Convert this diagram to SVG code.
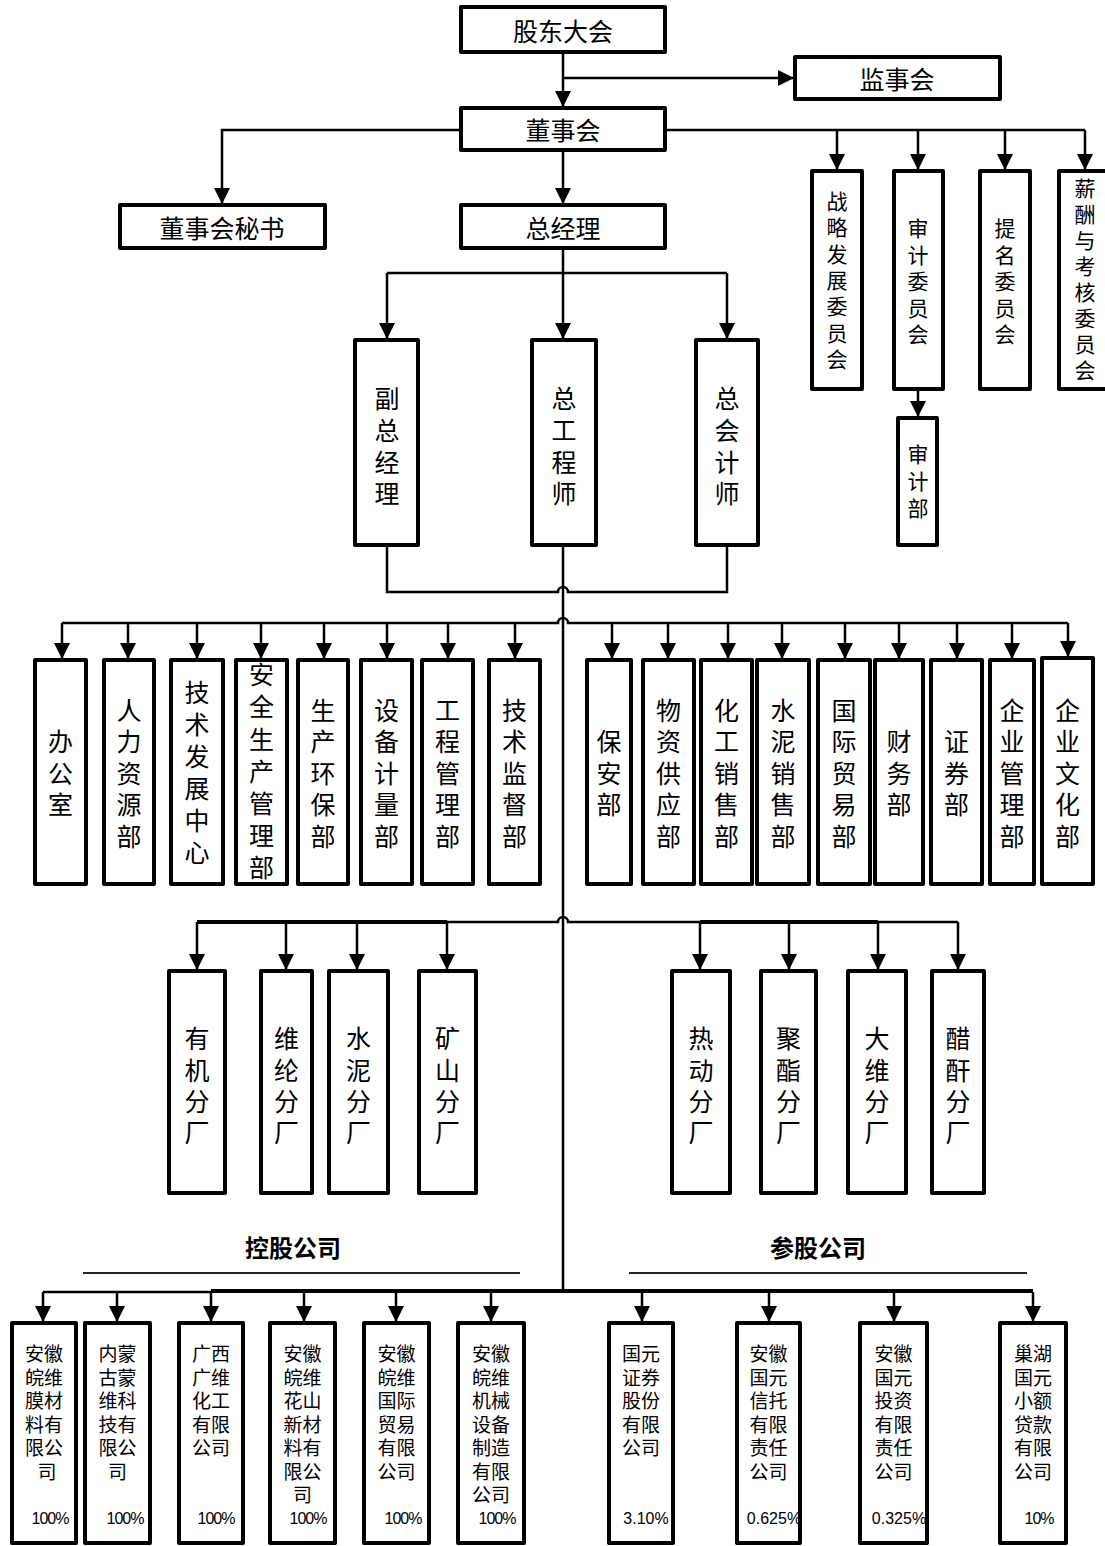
<svg xmlns="http://www.w3.org/2000/svg" width="1105" height="1546" viewBox="0 0 1105 1546">
<defs>
<marker id="ah" markerUnits="userSpaceOnUse" markerWidth="16" markerHeight="16" viewBox="0 0 16 16" refX="15" refY="8" orient="auto"><path d="M0,0 L16,8 L0,16 z" fill="#000"/></marker>
<style>
.box{fill:#fff;stroke:#000;stroke-width:4;stroke-linejoin:round}
.c{fill:none;stroke:#000;stroke-width:2.5}
.a{fill:none;stroke:#000;stroke-width:2.5;marker-end:url(#ah)}
.t{font-family:"Noto Sans CJK SC","Noto Sans",sans-serif;font-size:25px;fill:#000;text-anchor:middle;dominant-baseline:central}
.s{font-family:"Noto Sans CJK SC","Noto Sans",sans-serif;font-size:21px;fill:#000;text-anchor:middle;dominant-baseline:central}
.m{font-family:"Noto Sans CJK SC","Noto Sans",sans-serif;font-size:19px;fill:#000;text-anchor:middle;dominant-baseline:central}
.p{font-family:"Liberation Sans",Arial,sans-serif;font-size:16px;fill:#000;text-anchor:middle;dominant-baseline:central;letter-spacing:-1px}
.h{font-family:"Noto Sans CJK SC","Noto Sans",sans-serif;font-size:24px;font-weight:bold;fill:#000;text-anchor:middle;dominant-baseline:central}
</style>
</defs>
<rect width="1105" height="1546" fill="#fff"/>

<g id="connectors">
<path class="a" d="M563,52 V106"/>
<path class="a" d="M563,78 H793"/>
<path class="a" d="M563,150 V203"/>
<path class="a" d="M461,130 H222 V203"/>
<path class="c" d="M665,130 H1085"/>
<path class="a" d="M837,130 V169"/>
<path class="a" d="M918,130 V169"/>
<path class="a" d="M1005,130 V169"/>
<path class="a" d="M1085,130 V169"/>
<path class="a" d="M918,389 V416"/>
<path class="a" d="M563,248 V338"/>
<path class="c" d="M387,273 H727"/>
<path class="a" d="M387,273 V338"/>
<path class="a" d="M727,273 V338"/>
<path class="c" d="M387,545 V592 H558 A5,5 0 0 1 568,592 H727 V545"/>
<path class="c" d="M563,545 V1291"/>
<path class="c" d="M62,623 H558 A5,5 0 0 1 568,623 H1068"/>
<path class="a" d="M62,623 V658"/>
<path class="a" d="M128,623 V658"/>
<path class="a" d="M197,623 V658"/>
<path class="a" d="M261,623 V658"/>
<path class="a" d="M324,623 V658"/>
<path class="a" d="M387,623 V658"/>
<path class="a" d="M448,623 V658"/>
<path class="a" d="M515,623 V658"/>
<path class="a" d="M612,623 V658"/>
<path class="a" d="M668,623 V658"/>
<path class="a" d="M728,623 V658"/>
<path class="a" d="M782,623 V658"/>
<path class="a" d="M845,623 V658"/>
<path class="a" d="M899,623 V658"/>
<path class="a" d="M957,623 V658"/>
<path class="a" d="M1012,623 V658"/>
<path class="a" d="M1068,623 V656"/>
<path class="c" d="M197,922 H558 A5,5 0 0 1 568,922 H958"/>
<path class="c" d="M197,922 H447" style="stroke-width:4"/>
<path class="c" d="M700,922 H878" style="stroke-width:4"/>
<path class="a" d="M197,922 V969"/>
<path class="a" d="M286,922 V969"/>
<path class="a" d="M357,922 V969"/>
<path class="a" d="M447,922 V969"/>
<path class="a" d="M700,922 V969"/>
<path class="a" d="M789,922 V969"/>
<path class="a" d="M878,922 V969"/>
<path class="a" d="M958,922 V969"/>
<path class="c" d="M43,1292 H211"/>
<path class="c" d="M211,1291 H1033" style="stroke-width:4"/>
<path class="a" d="M43,1292 V1321"/>
<path class="a" d="M117,1292 V1321"/>
<path class="a" d="M211,1292 V1321"/>
<path class="a" d="M304,1292 V1321"/>
<path class="a" d="M396,1292 V1321"/>
<path class="a" d="M491,1292 V1321"/>
<path class="a" d="M642,1292 V1321"/>
<path class="a" d="M769,1292 V1321"/>
<path class="a" d="M894,1292 V1321"/>
<path class="a" d="M1033,1292 V1321"/>
<path d="M83,1273 H520 M629,1273 H1027" stroke="#222" stroke-width="2" fill="none"/>
</g>

<g id="n-gudong"><rect class="box" x="461" y="7" width="204" height="45"/><text class="t" x="563" y="30">股东大会</text></g>
<g id="n-jianshi"><rect class="box" x="795" y="57" width="205" height="42"/><text class="t" x="897" y="78">监事会</text></g>
<g id="n-dongshi"><rect class="box" x="461" y="108" width="204" height="42"/><text class="t" x="563" y="129">董事会</text></g>
<g id="n-mishu"><rect class="box" x="120" y="205" width="205" height="43"/><text class="t" x="222" y="227">董事会秘书</text></g>
<g id="n-zongjingli"><rect class="box" x="461" y="205" width="204" height="43"/><text class="t" x="563" y="227">总经理</text></g>

<g id="n-zhanlue"><rect class="box" x="812" y="171" width="50" height="218"/>
<text class="s"><tspan x="837" y="200">战</tspan><tspan x="837" y="226.3">略</tspan><tspan x="837" y="252.6">发</tspan><tspan x="837" y="279">展</tspan><tspan x="837" y="305.3">委</tspan><tspan x="837" y="331.6">员</tspan><tspan x="837" y="358">会</tspan></text></g>
<g id="n-shenjiwy"><rect class="box" x="894" y="171" width="49" height="218"/>
<text class="s"><tspan x="918" y="227">审</tspan><tspan x="918" y="253.5">计</tspan><tspan x="918" y="280">委</tspan><tspan x="918" y="306.5">员</tspan><tspan x="918" y="333">会</tspan></text></g>
<g id="n-timing"><rect class="box" x="980" y="171" width="50" height="218"/>
<text class="s"><tspan x="1005" y="227">提</tspan><tspan x="1005" y="253.5">名</tspan><tspan x="1005" y="280">委</tspan><tspan x="1005" y="306.5">员</tspan><tspan x="1005" y="333">会</tspan></text></g>
<g id="n-xinchou"><rect class="box" x="1059" y="171" width="52" height="218"/>
<text class="s"><tspan x="1085" y="187">薪</tspan><tspan x="1085" y="213">酬</tspan><tspan x="1085" y="239">与</tspan><tspan x="1085" y="265">考</tspan><tspan x="1085" y="291">核</tspan><tspan x="1085" y="317">委</tspan><tspan x="1085" y="343">员</tspan><tspan x="1085" y="369">会</tspan></text></g>
<g id="n-shenjibu"><rect class="box" x="898" y="418" width="39" height="127"/>
<text class="s"><tspan x="918" y="453">审</tspan><tspan x="918" y="480">计</tspan><tspan x="918" y="507">部</tspan></text></g>

<g id="n-fuzong"><rect class="box" x="355" y="340" width="63" height="205"/>
<text class="t"><tspan x="387" y="397">副</tspan><tspan x="387" y="429">总</tspan><tspan x="387" y="461">经</tspan><tspan x="387" y="492">理</tspan></text></g>
<g id="n-zonggong"><rect class="box" x="532" y="340" width="64" height="205"/>
<text class="t"><tspan x="564" y="397">总</tspan><tspan x="564" y="429">工</tspan><tspan x="564" y="461">程</tspan><tspan x="564" y="492">师</tspan></text></g>
<g id="n-zongkuai"><rect class="box" x="696" y="340" width="62" height="205"/>
<text class="t"><tspan x="727" y="397">总</tspan><tspan x="727" y="429">会</tspan><tspan x="727" y="461">计</tspan><tspan x="727" y="492">师</tspan></text></g>

<g id="d-bangong"><rect class="box" x="35" y="660" width="51" height="224"/>
<text class="t"><tspan x="60.5" y="740">办</tspan><tspan x="60.5" y="771.5">公</tspan><tspan x="60.5" y="803">室</tspan></text></g>
<g id="d-renli"><rect class="box" x="104" y="660" width="50" height="224"/>
<text class="t"><tspan x="129" y="708.5">人</tspan><tspan x="129" y="740">力</tspan><tspan x="129" y="771.5">资</tspan><tspan x="129" y="803">源</tspan><tspan x="129" y="834.5">部</tspan></text></g>
<g id="d-jishufz"><rect class="box" x="171" y="660" width="52" height="224"/>
<text class="t"><tspan x="197" y="691">技</tspan><tspan x="197" y="723">术</tspan><tspan x="197" y="755">发</tspan><tspan x="197" y="787">展</tspan><tspan x="197" y="819">中</tspan><tspan x="197" y="851">心</tspan></text></g>
<g id="d-anquan"><rect class="box" x="236" y="660" width="51" height="224"/>
<text class="t"><tspan x="261.5" y="673">安</tspan><tspan x="261.5" y="705">全</tspan><tspan x="261.5" y="737.5">生</tspan><tspan x="261.5" y="769.5">产</tspan><tspan x="261.5" y="801.5">管</tspan><tspan x="261.5" y="834">理</tspan><tspan x="261.5" y="866">部</tspan></text></g>
<g id="d-huanbao"><rect class="box" x="298" y="660" width="50" height="224"/>
<text class="t"><tspan x="323" y="708.5">生</tspan><tspan x="323" y="740">产</tspan><tspan x="323" y="771.5">环</tspan><tspan x="323" y="803">保</tspan><tspan x="323" y="834.5">部</tspan></text></g>
<g id="d-shebei"><rect class="box" x="361" y="660" width="51" height="224"/>
<text class="t"><tspan x="386.5" y="708.5">设</tspan><tspan x="386.5" y="740">备</tspan><tspan x="386.5" y="771.5">计</tspan><tspan x="386.5" y="803">量</tspan><tspan x="386.5" y="834.5">部</tspan></text></g>
<g id="d-gongcheng"><rect class="box" x="422" y="660" width="51" height="224"/>
<text class="t"><tspan x="447.5" y="708.5">工</tspan><tspan x="447.5" y="740">程</tspan><tspan x="447.5" y="771.5">管</tspan><tspan x="447.5" y="803">理</tspan><tspan x="447.5" y="834.5">部</tspan></text></g>
<g id="d-jiandu"><rect class="box" x="489" y="660" width="51" height="224"/>
<text class="t"><tspan x="514.5" y="708.5">技</tspan><tspan x="514.5" y="740">术</tspan><tspan x="514.5" y="771.5">监</tspan><tspan x="514.5" y="803">督</tspan><tspan x="514.5" y="834.5">部</tspan></text></g>

<g id="d-baoan"><rect class="box" x="587" y="660" width="44" height="224"/>
<text class="t"><tspan x="609" y="740">保</tspan><tspan x="609" y="771.5">安</tspan><tspan x="609" y="803">部</tspan></text></g>
<g id="d-wuzi"><rect class="box" x="643" y="660" width="51" height="224"/>
<text class="t"><tspan x="668.5" y="708.5">物</tspan><tspan x="668.5" y="740">资</tspan><tspan x="668.5" y="771.5">供</tspan><tspan x="668.5" y="803">应</tspan><tspan x="668.5" y="834.5">部</tspan></text></g>
<g id="d-huagong"><rect class="box" x="701" y="660" width="51" height="224"/>
<text class="t"><tspan x="726.5" y="708.5">化</tspan><tspan x="726.5" y="740">工</tspan><tspan x="726.5" y="771.5">销</tspan><tspan x="726.5" y="803">售</tspan><tspan x="726.5" y="834.5">部</tspan></text></g>
<g id="d-shuini"><rect class="box" x="757" y="660" width="52" height="224"/>
<text class="t"><tspan x="783" y="708.5">水</tspan><tspan x="783" y="740">泥</tspan><tspan x="783" y="771.5">销</tspan><tspan x="783" y="803">售</tspan><tspan x="783" y="834.5">部</tspan></text></g>
<g id="d-guoji"><rect class="box" x="818" y="660" width="52" height="224"/>
<text class="t"><tspan x="844" y="708.5">国</tspan><tspan x="844" y="740">际</tspan><tspan x="844" y="771.5">贸</tspan><tspan x="844" y="803">易</tspan><tspan x="844" y="834.5">部</tspan></text></g>
<g id="d-caiwu"><rect class="box" x="875" y="660" width="48" height="224"/>
<text class="t"><tspan x="899" y="740">财</tspan><tspan x="899" y="771.5">务</tspan><tspan x="899" y="803">部</tspan></text></g>
<g id="d-zhengquan"><rect class="box" x="931" y="660" width="51" height="224"/>
<text class="t"><tspan x="956.5" y="740">证</tspan><tspan x="956.5" y="771.5">券</tspan><tspan x="956.5" y="803">部</tspan></text></g>
<g id="d-qiyeguanli"><rect class="box" x="990" y="660" width="44" height="224"/>
<text class="t"><tspan x="1012" y="708.5">企</tspan><tspan x="1012" y="740">业</tspan><tspan x="1012" y="771.5">管</tspan><tspan x="1012" y="803">理</tspan><tspan x="1012" y="834.5">部</tspan></text></g>
<g id="d-qiyewenhua"><rect class="box" x="1042" y="658" width="51" height="226"/>
<text class="t"><tspan x="1067.5" y="708.5">企</tspan><tspan x="1067.5" y="740">业</tspan><tspan x="1067.5" y="771.5">文</tspan><tspan x="1067.5" y="803">化</tspan><tspan x="1067.5" y="834.5">部</tspan></text></g>

<g id="f-youji"><rect class="box" x="169" y="971" width="56" height="222"/>
<text class="t"><tspan x="197" y="1037">有</tspan><tspan x="197" y="1068.5">机</tspan><tspan x="197" y="1100">分</tspan><tspan x="197" y="1131">厂</tspan></text></g>
<g id="f-weilun"><rect class="box" x="261" y="971" width="51" height="222"/>
<text class="t"><tspan x="286.5" y="1037">维</tspan><tspan x="286.5" y="1068.5">纶</tspan><tspan x="286.5" y="1100">分</tspan><tspan x="286.5" y="1131">厂</tspan></text></g>
<g id="f-shuini"><rect class="box" x="329" y="971" width="59" height="222"/>
<text class="t"><tspan x="358.5" y="1037">水</tspan><tspan x="358.5" y="1068.5">泥</tspan><tspan x="358.5" y="1100">分</tspan><tspan x="358.5" y="1131">厂</tspan></text></g>
<g id="f-kuangshan"><rect class="box" x="419" y="971" width="57" height="222"/>
<text class="t"><tspan x="447.5" y="1037">矿</tspan><tspan x="447.5" y="1068.5">山</tspan><tspan x="447.5" y="1100">分</tspan><tspan x="447.5" y="1131">厂</tspan></text></g>
<g id="f-redong"><rect class="box" x="672" y="971" width="58" height="222"/>
<text class="t"><tspan x="701" y="1037">热</tspan><tspan x="701" y="1068.5">动</tspan><tspan x="701" y="1100">分</tspan><tspan x="701" y="1131">厂</tspan></text></g>
<g id="f-juzhi"><rect class="box" x="761" y="971" width="55" height="222"/>
<text class="t"><tspan x="788.5" y="1037">聚</tspan><tspan x="788.5" y="1068.5">酯</tspan><tspan x="788.5" y="1100">分</tspan><tspan x="788.5" y="1131">厂</tspan></text></g>
<g id="f-dawei"><rect class="box" x="848" y="971" width="58" height="222"/>
<text class="t"><tspan x="877" y="1037">大</tspan><tspan x="877" y="1068.5">维</tspan><tspan x="877" y="1100">分</tspan><tspan x="877" y="1131">厂</tspan></text></g>
<g id="f-cugan"><rect class="box" x="932" y="971" width="52" height="222"/>
<text class="t"><tspan x="958" y="1037">醋</tspan><tspan x="958" y="1068.5">酐</tspan><tspan x="958" y="1100">分</tspan><tspan x="958" y="1131">厂</tspan></text></g>

<g id="lbl-konggu"><text class="h" x="293" y="1246">控股公司</text></g>
<g id="lbl-cangu"><text class="h" x="818" y="1246">参股公司</text></g>

<g id="c1"><rect class="box" x="12" y="1323" width="64" height="220"/>
<text class="m"><tspan x="44" y="1352">安徽</tspan><tspan x="44" y="1375.5">皖维</tspan><tspan x="44" y="1399">膜材</tspan><tspan x="44" y="1422.5">料有</tspan><tspan x="44" y="1446">限公</tspan><tspan x="47" y="1469.5">司</tspan></text>
<text class="p" x="50" y="1518">100%</text></g>
<g id="c2"><rect class="box" x="85" y="1323" width="65" height="220"/>
<text class="m"><tspan x="117.5" y="1352">内蒙</tspan><tspan x="117.5" y="1375.5">古蒙</tspan><tspan x="117.5" y="1399">维科</tspan><tspan x="117.5" y="1422.5">技有</tspan><tspan x="117.5" y="1446">限公</tspan><tspan x="117.5" y="1469.5">司</tspan></text>
<text class="p" x="125" y="1518">100%</text></g>
<g id="c3"><rect class="box" x="179" y="1323" width="64" height="220"/>
<text class="m"><tspan x="211" y="1352">广西</tspan><tspan x="211" y="1375.5">广维</tspan><tspan x="211" y="1399">化工</tspan><tspan x="211" y="1422.5">有限</tspan><tspan x="211" y="1446">公司</tspan></text>
<text class="p" x="216" y="1518">100%</text></g>
<g id="c4"><rect class="box" x="270" y="1323" width="65" height="220"/>
<text class="m"><tspan x="302.5" y="1352">安徽</tspan><tspan x="302.5" y="1375.5">皖维</tspan><tspan x="302.5" y="1399">花山</tspan><tspan x="302.5" y="1422.5">新材</tspan><tspan x="302.5" y="1446">料有</tspan><tspan x="302.5" y="1469.5">限公</tspan><tspan x="302.5" y="1493">司</tspan></text>
<text class="p" x="308" y="1518">100%</text></g>
<g id="c5"><rect class="box" x="364" y="1323" width="65" height="220"/>
<text class="m"><tspan x="396.5" y="1352">安徽</tspan><tspan x="396.5" y="1375.5">皖维</tspan><tspan x="396.5" y="1399">国际</tspan><tspan x="396.5" y="1422.5">贸易</tspan><tspan x="396.5" y="1446">有限</tspan><tspan x="396.5" y="1469.5">公司</tspan></text>
<text class="p" x="403" y="1518">100%</text></g>
<g id="c6"><rect class="box" x="458" y="1323" width="66" height="220"/>
<text class="m"><tspan x="491" y="1352">安徽</tspan><tspan x="491" y="1375.5">皖维</tspan><tspan x="491" y="1399">机械</tspan><tspan x="491" y="1422.5">设备</tspan><tspan x="491" y="1446">制造</tspan><tspan x="491" y="1469.5">有限</tspan><tspan x="491" y="1493">公司</tspan></text>
<text class="p" x="497" y="1518">100%</text></g>
<g id="c7"><rect class="box" x="609" y="1323" width="64" height="220"/>
<text class="m"><tspan x="641" y="1352">国元</tspan><tspan x="641" y="1375.5">证券</tspan><tspan x="641" y="1399">股份</tspan><tspan x="641" y="1422.5">有限</tspan><tspan x="641" y="1446">公司</tspan></text>
<text class="p" x="646" y="1518" style="letter-spacing:0">3.10%</text></g>
<g id="c8"><rect class="box" x="737" y="1323" width="63" height="220"/>
<text class="m"><tspan x="768.5" y="1352">安徽</tspan><tspan x="768.5" y="1375.5">国元</tspan><tspan x="768.5" y="1399">信托</tspan><tspan x="768.5" y="1422.5">有限</tspan><tspan x="768.5" y="1446">责任</tspan><tspan x="768.5" y="1469.5">公司</tspan></text>
<text class="p" x="774" y="1518" style="letter-spacing:0">0.625%</text></g>
<g id="c9"><rect class="box" x="860" y="1323" width="67" height="220"/>
<text class="m"><tspan x="893.5" y="1352">安徽</tspan><tspan x="893.5" y="1375.5">国元</tspan><tspan x="893.5" y="1399">投资</tspan><tspan x="893.5" y="1422.5">有限</tspan><tspan x="893.5" y="1446">责任</tspan><tspan x="893.5" y="1469.5">公司</tspan></text>
<text class="p" x="899" y="1518" style="letter-spacing:0">0.325%</text></g>
<g id="c10"><rect class="box" x="1000" y="1323" width="66" height="220"/>
<text class="m"><tspan x="1033" y="1352">巢湖</tspan><tspan x="1033" y="1375.5">国元</tspan><tspan x="1033" y="1399">小额</tspan><tspan x="1033" y="1422.5">贷款</tspan><tspan x="1033" y="1446">有限</tspan><tspan x="1033" y="1469.5">公司</tspan></text>
<text class="p" x="1039" y="1518">10%</text></g>
</svg>
